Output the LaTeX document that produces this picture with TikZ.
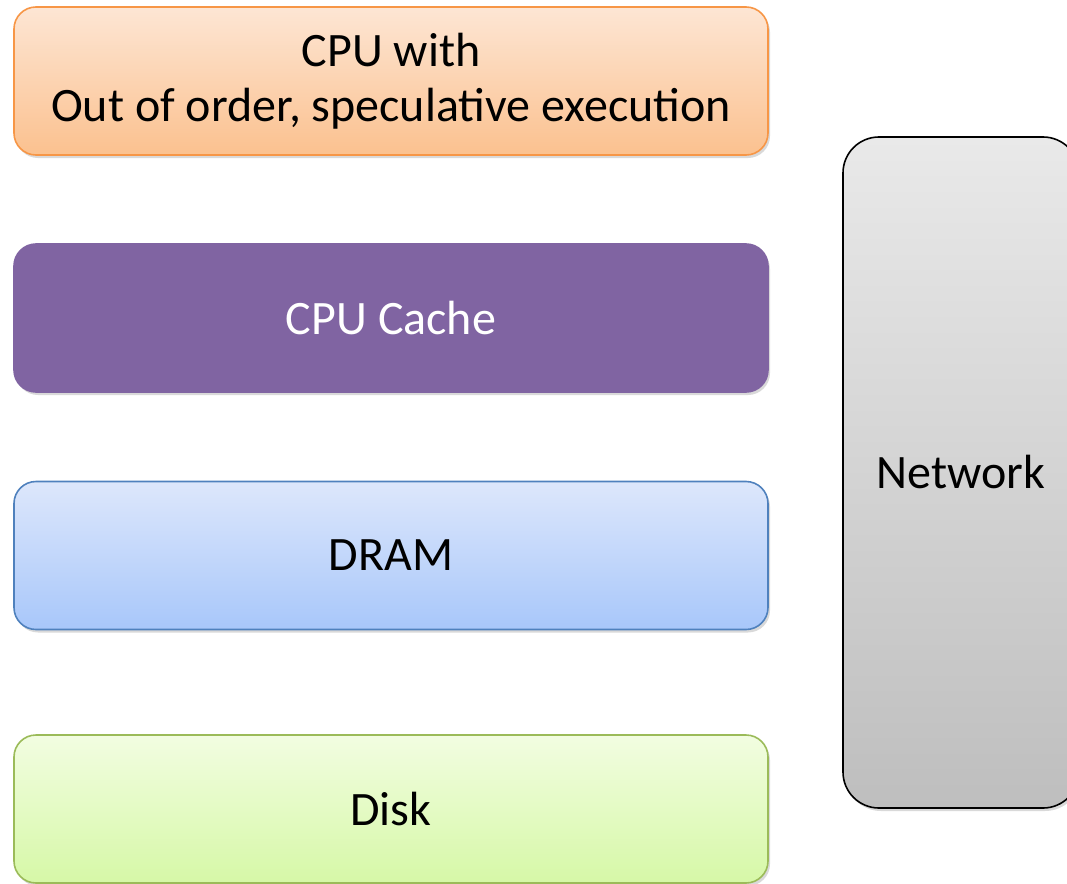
\documentclass[tikz,border=0pt]{standalone}
\usepackage{fontspec}
\setmainfont{Carlito}
\usetikzlibrary{shadows}
\definecolor{orgB}{HTML}{F79646}
\definecolor{orgT}{HTML}{FDE6D4}
\definecolor{orgD}{HTML}{FBC18F}
\definecolor{purp}{HTML}{8064A2}
\definecolor{bluB}{HTML}{4F81BD}
\definecolor{bluT}{HTML}{DDE7FB}
\definecolor{bluD}{HTML}{A8C7FA}
\definecolor{grnB}{HTML}{9BBB59}
\definecolor{grnT}{HTML}{F2FDE1}
\definecolor{grnD}{HTML}{D6F8A7}
\definecolor{gryT}{HTML}{E9E9E9}
\definecolor{gryD}{HTML}{BEBEBE}
\tikzset{
  layer/.style={rectangle, rounded corners=22bp, minimum width=754bp, minimum height=148bp,
    inner sep=0pt, line width=1.6bp, align=center, font=\fontsize{48bp}{55bp}\selectfont,
    drop shadow={shadow xshift=2bp, shadow yshift=-3bp, opacity=0.3}},
}
\begin{document}
\begin{tikzpicture}[x=1bp,y=-1bp]
\useasboundingbox (0,0) rectangle (1067,884);
\node[layer, draw=orgB, top color=orgT, bottom color=orgD] (cpu) at (391,81)
  {CPU with\\Out of order, speculative execution};
\node[layer, fill=purp, draw=purp, text=white] (cache) at (391,318) {CPU Cache};
\node[layer, draw=bluB, top color=bluT, bottom color=bluD] (dram) at (391,555.5) {DRAM};
\node[layer, draw=grnB, top color=grnT, bottom color=grnD] (disk) at (391,809) {Disk};
\node[rectangle, rounded corners=36bp, minimum width=236bp, minimum height=671bp,
  inner sep=0pt, line width=1.6bp, draw=black, top color=gryT, bottom color=gryD,
  font=\fontsize{48bp}{55bp}\selectfont,
  drop shadow={shadow xshift=2bp, shadow yshift=-3bp, opacity=0.3}] (net) at (961,472.5) {Network};
\end{tikzpicture}
\end{document}
